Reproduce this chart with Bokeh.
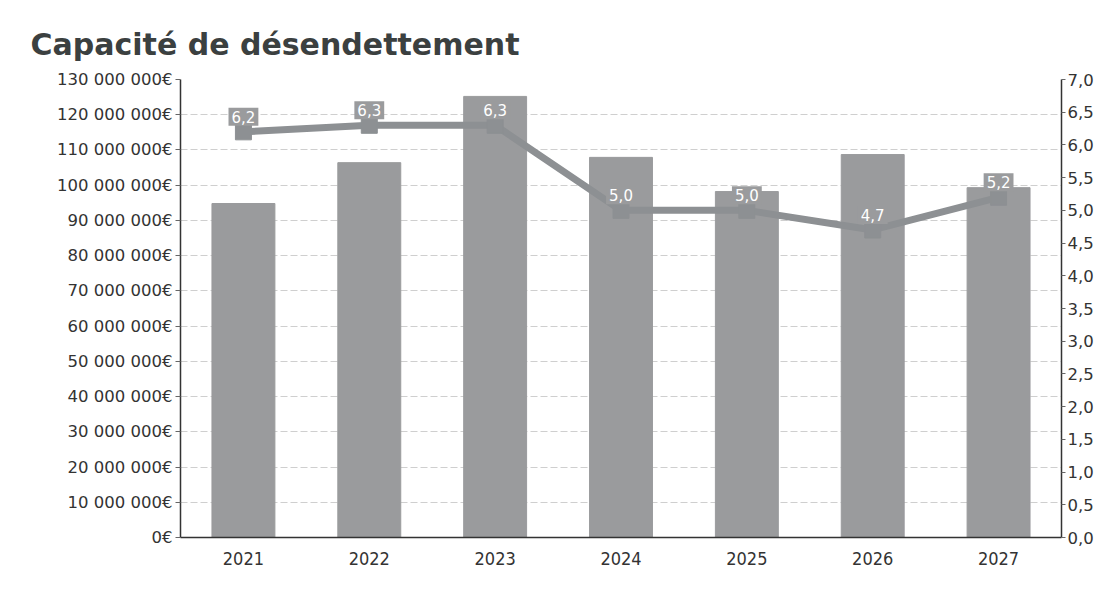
from bokeh.plotting import figure
from bokeh.models import (Range1d, LinearAxis, FixedTicker, ColumnDataSource,
                          Legend, LegendItem)
from bokeh.core.properties import value
from bokeh.embed import file_html
from bokeh.resources import INLINE

years = ["2021", "2022", "2023", "2024", "2025", "2026", "2027"]
capital = [94_800_000, 106_400_000, 125_200_000, 107_900_000, 98_200_000, 108_700_000, 99_300_000]
ratio = [6.2, 6.3, 6.3, 5.0, 5.0, 4.7, 5.2]
left_ticks = list(range(0, 130_000_001, 10_000_000))
right_ticks = [i * 0.5 for i in range(15)]

def eur(v):
    s = f"{int(v):,}".replace(",", " ")
    return s + "€"

def fr1(v):
    return f"{v:.1f}".replace(".", ",")

src = ColumnDataSource(dict(year=years, capital=capital, ratio=ratio,
                            lab=[fr1(r) for r in ratio]))

BAR = "#9a9b9d"
LINE = "#8d9093"
FONT = "DejaVu Sans"
COND = "DejaVu Sans Condensed"
TXT = "#333333"

p = figure(x_range=years, y_range=Range1d(0, 130_000_000), frame_width=881, frame_height=458,
           output_backend="svg", toolbar_location=None,
           min_border_left=180, min_border_right=40, min_border_top=79, min_border_bottom=0)
p.extra_y_ranges = {"ratio": Range1d(0, 7)}
p.outline_line_color = None
p.background_fill_color = "white"

p.title.text = "Capacité de désendettement"
p.title.text_font = FONT
p.title.text_font_style = "bold"
p.title.text_font_size = "30px"
p.title.text_color = "#3b4040"
p.title.align = "left"
p.title.offset = -150
p.title.standoff = 35

bars = p.vbar(x="year", top="capital", width=0.5, source=src, color=BAR)
line = p.line(x="year", y="ratio", source=src, y_range_name="ratio", line_width=7, color=LINE)
pts = p.scatter(x="year", y="ratio", source=src, y_range_name="ratio", marker="square",
                size=16, color=LINE)

p.text(x="year", y="ratio", text="lab", source=src, y_range_name="ratio",
       y_offset=-6, text_align="center", text_baseline="bottom",
       text_color="white", text_font=value(FONT), text_font_size="15px",
       background_fill_color=BAR, padding=3)

# left axis
ya = p.yaxis[0]
ya.ticker = FixedTicker(ticks=left_ticks)
ya.major_label_overrides = {t: eur(t) for t in left_ticks}
ya.axis_line_color = "#333333"
ya.axis_line_width = 1.5
ya.major_tick_line_color = "#666666"
ya.major_tick_in = 0
ya.major_tick_out = 5
ya.minor_tick_line_color = None
ya.major_label_text_font = FONT
ya.major_label_text_font_size = "16.5px"
ya.major_label_text_color = TXT
ya.major_label_standoff = 3

# right axis
ra = LinearAxis(y_range_name="ratio", ticker=FixedTicker(ticks=right_ticks))
ra.major_label_overrides = {t: fr1(t) for t in right_ticks}
ra.axis_line_color = "#333333"
ra.axis_line_width = 1.5
ra.major_tick_line_color = "#666666"
ra.major_tick_in = 0
ra.major_tick_out = 4
ra.minor_tick_line_color = None
ra.major_label_text_font = FONT
ra.major_label_text_font_size = "16.5px"
ra.major_label_text_color = TXT
ra.major_label_standoff = 2
p.add_layout(ra, "right")

# bottom axis
xa = p.xaxis[0]
xa.axis_line_color = "#333333"
xa.axis_line_width = 1.5
xa.major_tick_line_color = None
xa.major_label_text_font = COND
xa.major_label_text_font_size = "18px"
xa.major_label_text_color = TXT
xa.major_label_standoff = 8

p.xgrid.grid_line_color = None
p.ygrid.grid_line_color = "#cfcfcf"
p.ygrid.grid_line_dash = "7 3"
p.ygrid.grid_line_width = 1

legend = Legend(items=[LegendItem(label="Capital Restant Dû cumulé", renderers=[bars]),
                       LegendItem(label="Ratio de désendettement", renderers=[line, pts])],
                orientation="horizontal", location="center",
                label_text_font=COND, label_text_font_size="18px", label_text_color=TXT,
                glyph_width=32, glyph_height=18, label_height=20, spacing=14, label_standoff=6,
                border_line_color=None, background_fill_alpha=0, padding=0, margin=10)
p.add_layout(legend, "below")

open("out.html", "w").write(file_html(p, INLINE))
